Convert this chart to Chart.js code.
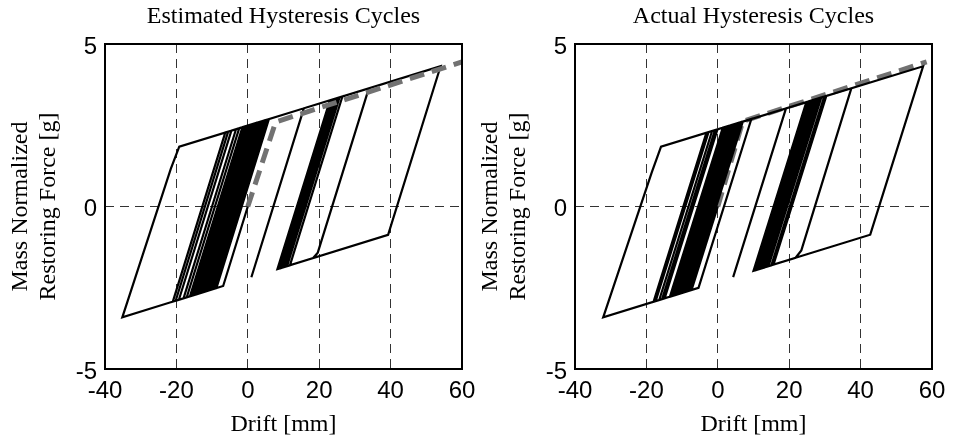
<!DOCTYPE html>
<html><head><meta charset="utf-8">
<script src="https://cdn.jsdelivr.net/npm/chart.js@4.4.0/dist/chart.umd.min.js"></script>
<style>
html,body{margin:0;padding:0;background:#fff;}
body{width:954px;height:441px;position:relative;overflow:hidden;}
canvas{position:absolute;top:0;}
#cA{left:0;} #cB{left:470px;}
</style></head><body>
<canvas id="cA" width="490" height="441"></canvas>
<canvas id="cB" width="484" height="441"></canvas>
<script>
// ---- tick values and labels ----
const xTickValues = [-40, -20, 0, 20, 40, 60];
const yTickValues = [-5, 0, 5];
const chartTitles = ['Estimated Hysteresis Cycles', 'Actual Hysteresis Cycles'];
const xLabel = 'Drift [mm]';
const yLabel = ['Mass Normalized', 'Restoring Force [g]'];

// ---- Estimated hysteresis path (drift mm, force g) ----
const driftEstimated = [0, -6.9, -12.1, 2.6, 3.6, -11.1, -13.6, 1.1, 4.2, -10.5, -14.8, -0.1, 1.6, -13.1, -16.2, -1.5, 2.1, -12.6, -15.5, -0.8, 4.7, -10.0, -14.1, 0.6, 3.1, -11.6, -17.1, -2.4, 5.2, -9.5, -19.3, -4.6, -3.3, -18.0, -21.0, -6.3, -5.5, -20.2, -35.15, -21.6, -19.2, 5.9, -8.8, -13.6, 1.1, 15.7, 1.0, 15.7, 26.5, 11.8, 8.3, 23.0, 25.2, 10.5, 8.8, 23.5, 25.7, 11.0, 9.2, 23.9, 24.7, 10.0, 9.6, 24.3, 54.0, 39.3, 18.3, 19.6, 33.9, 19.6, 18.3, 8.8, 23.5, 24.3, 9.6, 9.0, 14.4];
const forceEstimated = [0, -2.445, -2.623, 2.578, 2.612, -2.589, -2.674, 2.527, 2.632, -2.568, -2.715, 2.487, 2.544, -2.657, -2.762, 2.439, 2.561, -2.640, -2.739, 2.463, 2.649, -2.551, -2.691, 2.510, 2.595, -2.606, -2.793, 2.409, 2.666, -2.534, -2.868, 2.335, 2.378, -2.824, -2.926, 2.277, 2.304, -2.899, -3.409, 1.15, 1.841, 2.689, -2.510, -2.674, 2.527, 3.021, -2.176, 3.021, 3.386, -1.808, -1.927, 3.267, 3.342, -1.852, -1.910, 3.284, 3.359, -1.835, -1.896, 3.298, 3.325, -1.869, -1.883, 3.311, 4.315, -0.870, -1.586, -1.420, 3.636, -1.420, -1.586, -1.910, 3.284, 3.311, -1.883, -1.903, 0];
const backboneDriftEstimated = [0, 7.8, 60];
const backboneForceEstimated = [0, 2.6, 4.45];

// ---- Actual hysteresis path (drift mm, force g) ----
const driftActual = [0, -7.34, -11.1, 3.7, 6.2, -8.6, -12.0, 2.8, 5.5, -9.3, -12.6, 2.2, 6.6, -8.2, -11.4, 3.4, 4.9, -9.9, -13.0, 1.8, 4.3, -10.5, -12.3, 2.5, 7.0, -7.8, -11.7, 3.1, 5.8, -9.0, -13.4, 1.4, 4.6, -10.2, -10.8, 4.0, 5.2, -9.6, -14.9, -0.1, -14.9, -16.4, -1.6, -0.8, -15.6, -18.0, -3.2, -2.6, -17.4, -32.1, -18.5, -15.9, 9.4, -5.4, -12.6, 2.2, 19.1, 4.3, 19.1, 30.4, 15.6, 10.0, 24.8, 29.0, 14.2, 10.6, 25.4, 28.3, 13.5, 11.0, 25.8, 27.8, 13.0, 11.4, 26.2, 27.4, 12.6, 11.8, 26.6, 29.8, 15.0, 12.2, 27.0, 57.5, 42.7, 21.8, 23.4, 37.4, 23.4, 21.8, 12.2, 17.6];
const forceActual = [0, -2.569, -2.696, 2.501, 2.585, -2.611, -2.727, 2.470, 2.561, -2.635, -2.747, 2.450, 2.598, -2.598, -2.707, 2.491, 2.541, -2.656, -2.761, 2.437, 2.521, -2.676, -2.737, 2.460, 2.612, -2.584, -2.717, 2.480, 2.571, -2.625, -2.775, 2.423, 2.531, -2.666, -2.686, 2.511, 2.551, -2.645, -2.826, 2.373, -2.826, -2.877, 2.322, 2.349, -2.849, -2.931, 2.268, 2.288, -2.911, -3.410, 1.05, 1.840, 2.693, -2.503, -2.747, 2.450, 3.020, -2.173, 3.020, 3.400, -1.789, -1.979, 3.212, 3.353, -1.836, -1.959, 3.232, 3.330, -1.860, -1.945, 3.245, 3.313, -1.877, -1.931, 3.259, 3.299, -1.891, -1.918, 3.272, 3.380, -1.809, -1.904, 3.286, 4.314, -0.867, -1.578, -1.35, 3.636, -1.35, -1.578, -1.904, 0];
const backboneDriftActual = [0, 7.0, 58.5];
const backboneForceActual = [0, 2.62, 4.45];

const SANS = '"Liberation Sans", Arial, sans-serif';
const SERIF = '"Liberation Serif", "Times New Roman", serif';

const toPoints = (xs, ys) => xs.map((x, i) => ({x: x, y: ys[i]}));

const framePlugin = {
  id: 'frame',
  afterDraw(chart) {
    const {ctx, chartArea: a} = chart;
    ctx.save();
    ctx.setLineDash([]);
    ctx.strokeStyle = '#000';
    ctx.lineWidth = 2;
    ctx.strokeRect(a.left, a.top, a.right - a.left, a.bottom - a.top);
    ctx.restore();
  }
};

function makeChart(id, title, drift, force, bbDrift, bbForce, grayOnTop, padRight) {
  const black = {
    data: toPoints(drift, force), showLine: true, borderColor: '#000',
    borderWidth: 2.2, pointRadius: 0, fill: false, tension: 0
  };
  const gray = {
    data: toPoints(bbDrift, bbForce), showLine: true, borderColor: '#727272',
    borderWidth: 5, borderDash: [15, 8], pointRadius: 0, fill: false, tension: 0
  };
  const datasets = grayOnTop ? [gray, black] : [black, gray];
  return new Chart(document.getElementById(id), {
    type: 'scatter',
    data: {datasets: datasets},
    options: {
      responsive: false, animation: false, devicePixelRatio: 1,
      layout: {padding: {left: 0, right: padRight, top: 0, bottom: 0}},
      plugins: {
        legend: {display: false}, tooltip: {enabled: false},
        title: {
          display: true, text: title, fullSize: false, color: '#000',
          font: {family: SERIF, size: 24, weight: 'normal', lineHeight: 1.2},
          padding: {top: 2.5, bottom: 12.7}
        }
      },
      scales: {
        x: {
          type: 'linear', min: -40, max: 60,
          afterBuildTicks: s => { s.ticks = xTickValues.map(v => ({value: v})); },
          afterFit: s => { s.height = 72; },
          ticks: {color: '#000', font: {family: SANS, size: 24}, padding: 8, maxRotation: 0, autoSkip: false},
          grid: {color: '#333', lineWidth: 1, drawTicks: false},
          border: {display: false, dash: [9, 6]},
          title: {display: true, text: xLabel, color: '#000',
            font: {family: SERIF, size: 24, lineHeight: 1.2}, padding: {top: 0, bottom: 1.6}}
        },
        y: {
          type: 'linear', min: -5, max: 5,
          afterBuildTicks: s => { s.ticks = yTickValues.map(v => ({value: v})); },
          afterFit: s => { s.width = 105; },
          ticks: {color: '#000', font: {family: SANS, size: 24}, padding: 8, labelOffset: 3},
          grid: {color: '#333', lineWidth: 1, drawTicks: false},
          border: {display: false, dash: [9, 6]},
          title: {display: true, text: yLabel, color: '#000',
            font: {family: SERIF, size: 24, lineHeight: 1.167}, padding: {top: 6.2, bottom: 0}}
        }
      }
    },
    plugins: [framePlugin]
  });
}

makeChart('cA', chartTitles[0], driftEstimated, forceEstimated, backboneDriftEstimated, backboneForceEstimated, true, 28);
makeChart('cB', chartTitles[1], driftActual, forceActual, backboneDriftActual, backboneForceActual, false, 22);
</script>
</body></html>
